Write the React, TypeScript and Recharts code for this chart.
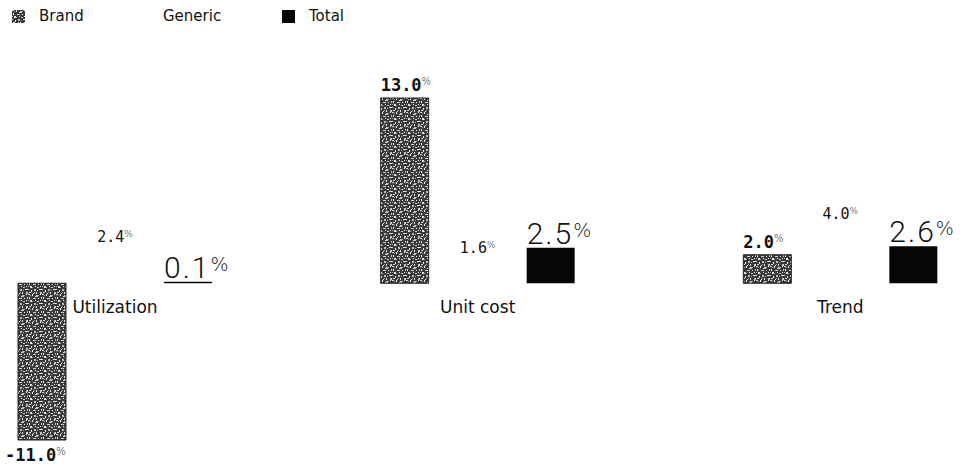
import React from 'react';
import { BarChart, Bar, XAxis, YAxis, Legend, LabelList } from 'recharts';

const categories = ['Utilization', 'Unit cost', 'Trend'];
const brandValues = [-11.0, 13.0, 2.0];
const genericValues = [2.4, 1.6, 4.0];
const totalValues = [0.1, 2.5, 2.6];
const yDomain: [number, number] = [-11, 13];

const data = categories.map((name, i) => ({
  name,
  Brand: brandValues[i],
  Generic: genericValues[i],
  Total: totalValues[i],
}));

const legendWidths = [124, 146, 120];

// texture specks for the Brand fill: [x, y, w, h, colour]
const texSpecks: [number, number, number, number, string][] = [
  [0, 0, 2, 1, '#d9d9d9'], [4, 0, 1, 2, '#f0f0f0'], [8, 1, 2, 2, '#c4c4c4'], [12, 0, 1, 1, '#e8e8e8'],
  [1, 3, 1, 2, '#f0f0f0'], [5, 4, 3, 1, '#cfcfcf'], [10, 4, 1, 1, '#f5f5f5'], [13, 3, 1, 2, '#bdbdbd'],
  [2, 6, 2, 2, '#e0e0e0'], [7, 6, 1, 1, '#f5f5f5'], [9, 7, 2, 1, '#d0d0d0'], [12, 6, 1, 1, '#f0f0f0'],
  [0, 9, 1, 1, '#cccccc'], [3, 10, 1, 2, '#efefef'], [6, 9, 2, 2, '#bdbdbd'], [11, 9, 2, 1, '#e6e6e6'],
  [1, 12, 2, 1, '#d6d6d6'], [5, 13, 1, 1, '#f5f5f5'], [8, 12, 1, 2, '#e2e2e2'], [12, 12, 2, 2, '#c8c8c8'],
  [4, 7, 1, 1, '#9a9a9a'], [10, 1, 1, 1, '#a0a0a0'], [2, 1, 1, 1, '#9c9c9c'], [7, 2, 1, 1, '#e0e0e0'],
  [13, 9, 1, 1, '#f0f0f0'], [9, 10, 1, 1, '#a6a6a6'], [6, 12, 1, 1, '#9c9c9c'], [0, 6, 1, 1, '#a8a8a8'],
];

type LabelStyle = {
  family: string;
  size: number;
  weight: number | string;
  pctSize: number;
  pctRaise: number;
  pctDx?: number;
  anchor: 'start' | 'middle';
  gap: number;
  negGap: number;
  negDx?: number;
  spacing?: number;
};

const getBox = (props: any) => {
  const vb = props.viewBox || {};
  const x = props.x ?? vb.x;
  const y = props.y ?? vb.y;
  const width = props.width ?? vb.width;
  const height = props.height ?? vb.height;
  return { x: Number(x), y: Number(y), width: Number(width), height: Number(height) };
};

const makeValueLabel = (s: LabelStyle) => (props: any) => {
  const { x, y, width, height } = getBox(props);
  const value = Number(props.value);
  const top = Math.min(y, y + height);
  const bottom = Math.max(y, y + height);
  const neg = value < 0;
  const base = s.anchor === 'start' ? x : x + width / 2;
  const tx = neg ? base + (s.negDx ?? 0) : base;
  const ty = neg ? bottom + s.negGap : top - s.gap;
  return (
    <text
      x={tx}
      y={ty}
      textAnchor={s.anchor}
      fontFamily={s.family}
      fontSize={s.size}
      fontWeight={s.weight}
      fill="#111"
    >
      <tspan letterSpacing={s.spacing ?? 0}>{value.toFixed(1)}</tspan>
      <tspan fontSize={s.pctSize} dx={s.pctDx ?? 0} dy={-s.pctRaise} fontFamily="DejaVu Sans" fontWeight={300}>%</tspan>
    </text>
  );
};

const CategoryLabel = (props: any) => {
  const { x, y, width, height } = getBox(props);
  const bottom = Math.max(y, y + height);
  return (
    <text
      x={x + width / 2}
      y={bottom + 30}
      textAnchor="middle"
      fontFamily="DejaVu Sans"
      fontSize={17}
      fill="#111"
    >
      {props.value}
    </text>
  );
};

const LegendContent = (props: any) => {
  const payload = props.payload || [];
  return (
    <div style={{ display: 'flex', fontFamily: 'DejaVu Sans', fontSize: 15, color: '#111', height: 20, alignItems: 'center' }}>
      {payload.map((e: any, i: number) => (
        <div key={i} style={{ width: legendWidths[i], display: 'flex', alignItems: 'center' }}>
          <svg width={13} height={13} style={{ marginRight: 14 }}>
            <rect width={13} height={13} fill={e.color} />
          </svg>
          <span>{e.value}</span>
        </div>
      ))}
    </div>
  );
};

const brandLabel = makeValueLabel({
  family: 'DejaVu Sans Mono', size: 17, weight: 'bold', pctSize: 10, pctRaise: 6,
  anchor: 'start', gap: 7, negGap: 21, negDx: -13,
});
const genericLabel = makeValueLabel({
  family: 'DejaVu Sans Mono', size: 15, weight: 'normal', pctSize: 9, pctRaise: 5,
  anchor: 'middle', gap: 7, negGap: 20,
});
const totalLabel = makeValueLabel({
  family: 'Roboto', size: 30, weight: 300, pctSize: 19, pctRaise: 7, pctDx: 0,
  anchor: 'start', gap: 4, negGap: 30, spacing: 2,
});

export default function App() {
  return (
    <div style={{ position: 'absolute', left: 0, top: 0, width: 969, height: 467, background: '#fff' }}>
      <BarChart
        width={969}
        height={467}
        data={data}
        margin={{ top: 78, right: -53, bottom: 27, left: -66 }}
        barGap={25}
      >
        <defs>
          <pattern id="brandTex" width={14} height={14} patternUnits="userSpaceOnUse">
            <rect width={14} height={14} fill="#3a3a3a" />
            {texSpecks.map(([px, py, w, h, c], i) => (
              <rect key={i} x={px} y={py} width={w} height={h} fill={c} />
            ))}
          </pattern>
        </defs>
        <XAxis dataKey="name" hide />
        <YAxis hide domain={yDomain} />
        <Legend
          verticalAlign="top"
          align="left"
          layout="horizontal"
          content={<LegendContent />}
          wrapperStyle={{ left: 12, top: 6, width: 500, height: 20 }}
        />
        <Bar dataKey="Brand" fill="url(#brandTex)" stroke="#222" strokeWidth={1} barSize={48} isAnimationActive={false}>
          <LabelList dataKey="Brand" content={brandLabel} />
        </Bar>
        <Bar dataKey="Generic" fill="#ffffff" barSize={48} isAnimationActive={false}>
          <LabelList dataKey="Generic" content={genericLabel} />
          <LabelList dataKey="name" content={<CategoryLabel />} />
        </Bar>
        <Bar dataKey="Total" fill="#060606" barSize={48} isAnimationActive={false}>
          <LabelList dataKey="Total" content={totalLabel} />
        </Bar>
      </BarChart>
    </div>
  );
}
